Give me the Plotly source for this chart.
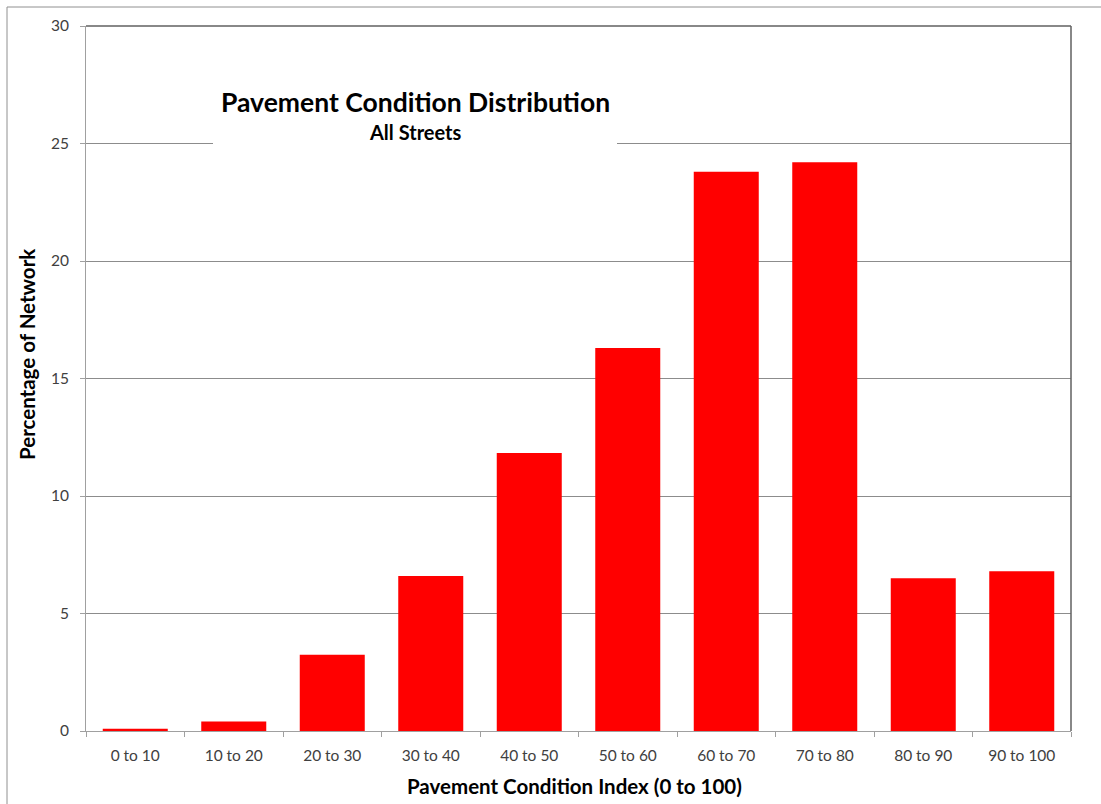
import plotly.graph_objects as go

categories = ["0 to 10", "10 to 20", "20 to 30", "30 to 40", "40 to 50",
              "50 to 60", "60 to 70", "70 to 80", "80 to 90", "90 to 100"]
percent = [0.1, 0.4, 3.25, 6.6, 11.83, 16.3, 23.8, 24.2, 6.5, 6.8]
y_ticks = [0, 5, 10, 15, 20, 25, 30]

FONT = "Lato, 'Open Sans', sans-serif"

fig = go.Figure(go.Bar(x=categories, y=percent, marker=dict(color="#FF0000", line=dict(width=0))))

PL, PR, PT, PB = 86, 1071, 26, 731
W, H = 1101, 804
pw, ph = PR - PL, PB - PT

def px(x):
    return (x - PL) / pw

def py(y):
    return (PB - y) / ph

fig.update_layout(
    width=W, height=H,
    margin=dict(l=PL, r=W - PR, t=PT, b=H - PB, autoexpand=False),
    paper_bgcolor="white", plot_bgcolor="white",
    bargap=0.34,
    showlegend=False,
    font=dict(family=FONT, color="#404040", size=15),
)
fig.update_xaxes(
    automargin=False,
    tickson="boundaries", ticks="outside", ticklen=5, tickcolor="#a0a0a0",
    showline=True, linecolor="#a0a0a0", linewidth=1,
    tickfont=dict(size=15.5, color="#404040"),
    ticklabelstandoff=10,
)
fig.update_yaxes(
    automargin=False,
    range=[0, 30], tickvals=y_ticks, ticks="outside", ticklen=5, tickcolor="#a0a0a0",
    showline=True, linecolor="#a0a0a0", linewidth=1,
    showgrid=True, gridcolor="#8c8c8c", gridwidth=1,
    tickfont=dict(size=15.5, color="#404040"),
    ticklabelstandoff=8,
    zeroline=False,
)

# axis titles
fig.add_annotation(xref="paper", yref="paper", x=px(574), y=py(786),
                   text="<b>Pavement Condition Index (0 to 100)</b>", showarrow=False,
                   font=dict(size=20.5, color="black", family=FONT), yanchor="middle")
fig.add_annotation(xref="paper", yref="paper", x=px(27), y=py(355), textangle=-90,
                   text="<b>Percentage of Network</b>", showarrow=False,
                   font=dict(size=20.5, color="black", family=FONT),
                   xanchor="center", yanchor="middle")

# plot area border (top/right)
fig.add_shape(type="line", xref="paper", yref="paper", x0=0, x1=1, y0=1, y1=1,
              line=dict(color="#606060", width=1.5))
fig.add_shape(type="line", xref="paper", yref="paper", x0=1, x1=1, y0=0, y1=1,
              line=dict(color="#606060", width=1.5))
# white title box covering gridline
fig.add_shape(type="rect", xref="paper", yref="paper",
              x0=px(213), x1=px(617), y0=py(165), y1=py(75),
              fillcolor="white", line=dict(width=0), layer="above")
fig.add_annotation(xref="paper", yref="paper", x=px(415), y=py(102),
                   text="<b>Pavement Condition Distribution</b>", showarrow=False,
                   font=dict(size=26.5, color="black", family=FONT), yanchor="middle")
fig.add_annotation(xref="paper", yref="paper", x=px(415), y=py(132),
                   text="<b>All Streets</b>", showarrow=False,
                   font=dict(size=20, color="black", family=FONT), yanchor="middle")
# outer chart border
fig.add_shape(type="line", xref="paper", yref="paper", x0=px(7), x1=px(1101), y0=py(7), y1=py(7),
              line=dict(color="#909090", width=1))
fig.add_shape(type="line", xref="paper", yref="paper", x0=px(7), x1=px(7), y0=py(804), y1=py(7),
              line=dict(color="#909090", width=1))

fig.write_html("out.html", config={"displayModeBar": False})

# remove default page margin so the figure sits at the window origin
with open("out.html", "r", encoding="utf-8") as f:
    html = f.read()
html = html.replace("<body>", '<body style="margin:0;padding:0;">', 1)
with open("out.html", "w", encoding="utf-8") as f:
    f.write(html)
